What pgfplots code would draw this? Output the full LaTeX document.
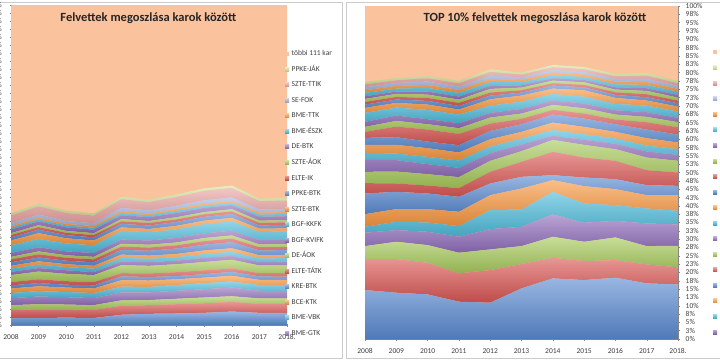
\documentclass[border=0pt]{standalone}
\usepackage{fontspec}
\setmainfont{Carlito}
\usepackage{pgfplots}
\pgfplotsset{compat=1.18}
\definecolor{cbl}{HTML}{5A8AD0}
\definecolor{crd}{HTML}{D85653}
\definecolor{cgn}{HTML}{A6C95B}
\definecolor{cpu}{HTML}{8F6DBA}
\definecolor{caq}{HTML}{4DBAD9}
\definecolor{cor}{HTML}{F7963F}
\definecolor{lbl}{HTML}{A3B6E0}
\definecolor{lrd}{HTML}{E8A2A1}
\definecolor{lgn}{HTML}{D3E498}
\definecolor{lor}{HTML}{FBC29E}
\definecolor{axg}{HTML}{868686}
\definecolor{txt}{HTML}{404040}
\pgfplotsset{
  sh/.style={draw=none, top color=#1!62!white, bottom color=#1!88!black},
  base/.style={
    scale only axis, stack plots=y, xmin=2008, xmax=2018, ymin=0, ymax=100,
    axis background/.style={fill=lor},
    xtick={2008,2009,2010,2011,2012,2013,2014,2015,2016,2017,2018},
    xticklabels={2008,2009,2010,2011,2012,2013,2014,2015,2016,2017,2018.},
    ytick={0,2.5,...,100},
    yticklabels={0\%,3\%,5\%,8\%,10\%,13\%,15\%,18\%,20\%,23\%,25\%,28\%,30\%,33\%,35\%,38\%,40\%,43\%,45\%,48\%,50\%,53\%,55\%,58\%,60\%,63\%,65\%,68\%,70\%,73\%,75\%,78\%,80\%,83\%,85\%,88\%,90\%,93\%,95\%,98\%,100\%},
    tick align=outside, major tick length=3pt,
    tick style={axg, line width=0.4pt},
    axis line style={axg, line width=0.5pt, -},
    ticklabel style={font=\fontsize{7.5}{8}\selectfont, text=txt},
    xticklabel style={inner sep=0pt, anchor=north, yshift=-8pt},
    legend image code/.code={\path[##1] (0pt,-2pt) rectangle (4pt,2pt);},
    reverse legend,
    legend cell align=left,
    legend style={draw=none, fill=none, inner sep=0pt, font=\fontsize{7.5}{8}\selectfont, text=txt,
      row sep=9.55pt, nodes={inner sep=0pt, text height=5pt, text depth=1pt},
      /tikz/every odd column/.append style={column sep=2.5pt}},
    title style={font=\bfseries\fontsize{12.5}{14}\selectfont, text=black!85, anchor=center},
  }
}
\begin{document}
\begin{tikzpicture}
\useasboundingbox (0,0) rectangle (720pt,360pt);
\fill[white] (0,0) rectangle (720pt,360pt);
\clip (0,0) rectangle (720pt,360pt);
\draw[gray!40, line width=0.7pt] (-3pt,2pt) rectangle (342pt,358pt);
\draw[gray!40, line width=0.7pt] (346pt,2pt) rectangle (730pt,358pt);

\begin{axis}[base, at={(11pt,35pt)}, anchor=south west, width=276pt, height=320pt,
  axis x line=bottom, axis y line=left, axis line style={-},
  yticklabel style={anchor=east, inner sep=0pt, xshift=-7.5pt},
  title={Felvettek megoszlása karok között}, title style={at={(0.498,0.94)}},
  legend style={at={(0.9928,0.858)}, anchor=north west}]
\addplot[sh=cbl, forget plot] coordinates {(2008,2.2)(2009,2.2)(2010,2.3)(2011,2.2)(2012,3.2)(2013,3.5)(2014,3.6)(2015,3.8)(2016,4.2)(2017,3.8)(2018,3.8)} \closedcycle;
\addplot[sh=crd, forget plot] coordinates {(2008,2.5)(2009,2.7)(2010,2.6)(2011,2.5)(2012,2.8)(2013,2.7)(2014,2.9)(2015,3.0)(2016,3.0)(2017,2.8)(2018,2.8)} \closedcycle;
\addplot[sh=cgn, forget plot] coordinates {(2008,1.5)(2009,1.6)(2010,1.5)(2011,1.5)(2012,1.7)(2013,1.6)(2014,1.7)(2015,1.8)(2016,1.8)(2017,1.7)(2018,1.7)} \closedcycle;
\addplot[sh=cpu, forget plot] coordinates {(2008,2.2)(2009,2.4)(2010,2.3)(2011,2.2)(2012,2.5)(2013,2.4)(2014,2.5)(2015,2.6)(2016,2.7)(2017,2.4)(2018,2.4)} \closedcycle;
\addplot[sh=caq, forget plot] coordinates {(2008,1.6)(2009,1.7)(2010,1.6)(2011,1.6)(2012,1.8)(2013,1.7)(2014,1.8)(2015,1.9)(2016,1.9)(2017,1.8)(2018,1.8)} \closedcycle;
\addplot[sh=cor, forget plot] coordinates {(2008,1.4)(2009,1.5)(2010,1.4)(2011,1.4)(2012,2.0)(2013,2.0)(2014,1.8)(2015,1.7)(2016,1.8)(2017,1.6)(2018,1.6)} \closedcycle;
\addplot[sh=cbl, forget plot] coordinates {(2008,1.0)(2009,1.0)(2010,0.9)(2011,1.0)(2012,1.2)(2013,1.1)(2014,1.0)(2015,1.1)(2016,1.2)(2017,1.1)(2018,1.0)} \closedcycle;
\addplot[sh=crd, forget plot] coordinates {(2008,1.0)(2009,1.2)(2010,1.1)(2011,1.0)(2012,1.0)(2013,1.1)(2014,1.2)(2015,1.2)(2016,1.1)(2017,1.0)(2018,1.1)} \closedcycle;
\addplot[sh=cgn, forget plot] coordinates {(2008,2.2)(2009,2.4)(2010,2.3)(2011,2.2)(2012,2.5)(2013,2.4)(2014,2.5)(2015,2.6)(2016,2.7)(2017,2.4)(2018,2.4)} \closedcycle;
\addplot[sh=cpu] coordinates {(2008,1.0)(2009,1.1)(2010,1.1)(2011,0.9)(2012,1.1)(2013,1.2)(2014,1.1)(2015,1.3)(2016,1.2)(2017,1.1)(2018,1.2)} \closedcycle;
\addlegendentry{BME-GTK}
\addplot[sh=caq] coordinates {(2008,1.0)(2009,1.1)(2010,1.0)(2011,1.1)(2012,1.2)(2013,1.0)(2014,1.1)(2015,1.2)(2016,1.3)(2017,1.1)(2018,1.1)} \closedcycle;
\addlegendentry{BME-VBK}
\addplot[sh=cor] coordinates {(2008,0.9)(2009,1.0)(2010,0.9)(2011,0.9)(2012,1.0)(2013,1.0)(2014,1.0)(2015,1.1)(2016,1.1)(2017,1.0)(2018,1.0)} \closedcycle;
\addlegendentry{BCE-KTK}
\addplot[sh=cbl] coordinates {(2008,1.1)(2009,1.2)(2010,1.1)(2011,1.1)(2012,1.5)(2013,1.5)(2014,1.7)(2015,1.8)(2016,1.9)(2017,1.5)(2018,1.5)} \closedcycle;
\addlegendentry{KRE-BTK}
\addplot[sh=crd] coordinates {(2008,0.9)(2009,1.0)(2010,0.9)(2011,0.9)(2012,1.0)(2013,1.0)(2014,1.0)(2015,1.1)(2016,1.1)(2017,1.0)(2018,1.0)} \closedcycle;
\addlegendentry{ELTE-TÁTK}
\addplot[sh=cgn] coordinates {(2008,0.8)(2009,0.9)(2010,0.8)(2011,0.8)(2012,0.9)(2013,0.9)(2014,0.9)(2015,1.0)(2016,1.0)(2017,0.9)(2018,0.9)} \closedcycle;
\addlegendentry{DE-ÁOK}
\addplot[sh=cpu] coordinates {(2008,1.2)(2009,1.3)(2010,1.2)(2011,1.2)(2012,1.3)(2013,1.3)(2014,1.4)(2015,1.4)(2016,1.5)(2017,1.3)(2018,1.3)} \closedcycle;
\addlegendentry{BGF-KVIFK}
\addplot[sh=caq] coordinates {(2008,2.4)(2009,2.6)(2010,2.5)(2011,2.4)(2012,2.7)(2013,2.6)(2014,2.7)(2015,2.9)(2016,2.9)(2017,2.6)(2018,2.6)} \closedcycle;
\addlegendentry{BGF-KKFK}
\addplot[sh=cor] coordinates {(2008,1.5)(2009,1.8)(2010,1.6)(2011,1.5)(2012,1.1)(2013,1.0)(2014,1.1)(2015,1.1)(2016,1.1)(2017,1.0)(2018,1.0)} \closedcycle;
\addlegendentry{SZTE-BTK}
\addplot[sh=cbl] coordinates {(2008,1.0)(2009,1.1)(2010,1.0)(2011,1.0)(2012,1.1)(2013,1.1)(2014,1.2)(2015,1.2)(2016,1.2)(2017,1.0)(2018,1.1)} \closedcycle;
\addlegendentry{PPKE-BTK}
\addplot[sh=crd] coordinates {(2008,0.7)(2009,0.8)(2010,0.7)(2011,0.7)(2012,0.8)(2013,0.8)(2014,0.8)(2015,0.8)(2016,0.8)(2017,0.8)(2018,0.8)} \closedcycle;
\addlegendentry{ELTE-IK}
\addplot[sh=cgn] coordinates {(2008,0.6)(2009,0.6)(2010,0.6)(2011,0.6)(2012,0.7)(2013,0.6)(2014,0.7)(2015,0.7)(2016,0.7)(2017,0.7)(2018,0.7)} \closedcycle;
\addlegendentry{SZTE-ÁOK}
\addplot[sh=cpu] coordinates {(2008,1.1)(2009,1.2)(2010,1.1)(2011,1.1)(2012,1.2)(2013,1.2)(2014,1.3)(2015,1.3)(2016,1.3)(2017,1.2)(2018,1.2)} \closedcycle;
\addlegendentry{DE-BTK}
\addplot[sh=caq] coordinates {(2008,0.6)(2009,0.6)(2010,0.6)(2011,0.6)(2012,0.7)(2013,0.6)(2014,0.7)(2015,0.7)(2016,0.7)(2017,0.7)(2018,0.7)} \closedcycle;
\addlegendentry{BME-ÉSZK}
\addplot[sh=cor] coordinates {(2008,0.5)(2009,0.5)(2010,0.5)(2011,0.5)(2012,0.6)(2013,0.5)(2014,0.6)(2015,0.6)(2016,0.6)(2017,0.6)(2018,0.6)} \closedcycle;
\addlegendentry{BME-TTK}
\addplot[sh=lbl] coordinates {(2008,0.9)(2009,1.0)(2010,0.9)(2011,0.9)(2012,1.0)(2013,1.0)(2014,1.0)(2015,1.1)(2016,1.1)(2017,1.0)(2018,1.0)} \closedcycle;
\addlegendentry{SE-FOK}
\addplot[sh=lrd] coordinates {(2008,2.4)(2009,2.6)(2010,2.5)(2011,2.4)(2012,2.7)(2013,2.6)(2014,2.7)(2015,2.9)(2016,2.9)(2017,2.6)(2018,2.6)} \closedcycle;
\addlegendentry{SZTE-TTIK}
\addplot[sh=lgn] coordinates {(2008,0.7)(2009,0.8)(2010,0.7)(2011,0.7)(2012,0.8)(2013,0.8)(2014,0.8)(2015,0.8)(2016,0.8)(2017,0.8)(2018,0.8)} \closedcycle;
\addlegendentry{PPKE-JÁK}
\addplot[fill=lor, draw=none] coordinates {(2008,65)(2009,62.5)(2010,64)(2011,65.3)(2012,60.3)(2013,61)(2014,59)(2015,57)(2016,56)(2017,60)(2018,60)} \closedcycle;
\addlegendentry{többi 111 kar}
\end{axis}

\begin{axis}[base, at={(365pt,21pt)}, anchor=south west, width=313pt, height=333pt,
  axis x line=bottom, axis y line=right, axis line style={-},
  yticklabel style={anchor=west, inner sep=0pt, xshift=6pt},
  title={TOP 10\% felvettek megoszlása karok között}, title style={at={(0.543,0.946)}},
  legend style={at={(1.1118,0.871)}, anchor=north west}]
\addplot[sh=cbl, forget plot] coordinates {(2008,14.7)(2009,13.9)(2010,13.4)(2011,11.2)(2012,10.9)(2013,15.2)(2014,18.2)(2015,17.7)(2016,18.4)(2017,16.7)(2018,16.4)} \closedcycle;
\addplot[sh=crd, forget plot] coordinates {(2008,9.3)(2009,10.1)(2010,9.5)(2011,8.5)(2012,9.8)(2013,7.3)(2014,6.2)(2015,5.7)(2016,5.3)(2017,5.7)(2018,5.1)} \closedcycle;
\addplot[sh=cgn, forget plot] coordinates {(2008,3.9)(2009,5.2)(2010,5.3)(2011,6.2)(2012,6.2)(2013,5.4)(2014,6.3)(2015,5.8)(2016,6.8)(2017,5.5)(2018,6.5)} \closedcycle;
\addplot[sh=cpu, forget plot] coordinates {(2008,4.0)(2009,3.5)(2010,4.0)(2011,4.8)(2012,6.1)(2013,5.8)(2014,6.7)(2015,5.7)(2016,5.0)(2017,6.8)(2018,6.4)} \closedcycle;
\addplot[sh=caq, forget plot] coordinates {(2008,1.8)(2009,2.5)(2010,2.8)(2011,3.2)(2012,5.7)(2013,5.2)(2014,6.8)(2015,5.8)(2016,4.7)(2017,4.5)(2018,4.1)} \closedcycle;
\addplot[sh=cor, forget plot] coordinates {(2008,3.8)(2009,3.8)(2010,4.0)(2011,4.3)(2012,4.5)(2013,6.3)(2014,3.5)(2015,5.2)(2016,4.8)(2017,4.0)(2018,4.7)} \closedcycle;
\addplot[sh=cbl, forget plot] coordinates {(2008,6.2)(2009,5.2)(2010,4.7)(2011,4.5)(2012,3.5)(2013,3.5)(2014,1.5)(2015,2.6)(2016,3.0)(2017,3.0)(2018,2.8)} \closedcycle;
\addplot[sh=crd, forget plot] coordinates {(2008,3.1)(2009,2.5)(2010,2.4)(2011,2.6)(2012,3.5)(2013,4.5)(2014,7.0)(2015,6.0)(2016,5.5)(2017,4.5)(2018,4.0)} \closedcycle;
\addplot[sh=cgn, forget plot] coordinates {(2008,3.4)(2009,3.6)(2010,3.4)(2011,3.3)(2012,3.3)(2013,3.2)(2014,3.6)(2015,3.8)(2016,3.5)(2017,3.8)(2018,3.5)} \closedcycle;
\addplot[sh=cpu] coordinates {(2008,3.6)(2009,3.4)(2010,3.0)(2011,2.8)(2012,2.3)(2013,2.0)(2014,1.2)(2015,1.5)(2016,1.6)(2017,1.8)(2018,1.8)} \closedcycle;
\addlegendentry{BME-GTK}
\addplot[sh=caq] coordinates {(2008,2.1)(2009,2.0)(2010,2.2)(2011,2.2)(2012,2.0)(2013,1.8)(2014,1.8)(2015,1.7)(2016,1.6)(2017,1.8)(2018,1.7)} \closedcycle;
\addlegendentry{BME-VBK}
\addplot[sh=cor] coordinates {(2008,2.4)(2009,2.6)(2010,2.6)(2011,2.4)(2012,2.2)(2013,2.0)(2014,2.2)(2015,2.2)(2016,2.0)(2017,2.2)(2018,2.0)} \closedcycle;
\addlegendentry{BCE-KTK}
\addplot[sh=cbl] coordinates {(2008,2.1)(2009,2.3)(2010,2.0)(2011,2.2)(2012,2.5)(2013,2.3)(2014,2.4)(2015,2.5)(2016,2.3)(2017,2.6)(2018,2.4)} \closedcycle;
\addlegendentry{KRE-BTK}
\addplot[sh=crd] coordinates {(2008,1.8)(2009,3.2)(2010,3.6)(2011,3.4)(2012,2.2)(2013,1.6)(2014,1.4)(2015,1.5)(2016,1.4)(2017,2.2)(2018,2.2)} \closedcycle;
\addlegendentry{ELTE-TÁTK}
\addplot[sh=cgn] coordinates {(2008,1.5)(2009,1.7)(2010,1.6)(2011,1.7)(2012,1.8)(2013,1.6)(2014,1.5)(2015,1.6)(2016,1.5)(2017,1.6)(2018,1.5)} \closedcycle;
\addlegendentry{DE-ÁOK}
\addplot[sh=cpu] coordinates {(2008,1.5)(2009,1.6)(2010,1.5)(2011,1.5)(2012,1.4)(2013,1.4)(2014,1.3)(2015,1.4)(2016,1.3)(2017,1.4)(2018,1.3)} \closedcycle;
\addlegendentry{BGF-KVIFK}
\addplot[sh=caq] coordinates {(2008,2.7)(2009,2.4)(2010,2.8)(2011,2.6)(2012,2.2)(2013,2.2)(2014,2.0)(2015,2.1)(2016,1.9)(2017,2.0)(2018,1.9)} \closedcycle;
\addlegendentry{BGF-KKFK}
\addplot[sh=cor] coordinates {(2008,1.5)(2009,1.4)(2010,1.6)(2011,1.5)(2012,1.9)(2013,1.8)(2014,1.6)(2015,1.9)(2016,1.8)(2017,1.5)(2018,1.5)} \closedcycle;
\addlegendentry{SZTE-BTK}
\addplot[sh=cbl] coordinates {(2008,1.0)(2009,1.0)(2010,1.1)(2011,1.1)(2012,1.1)(2013,0.9)(2014,0.9)(2015,0.9)(2016,0.9)(2017,1.0)(2018,1.0)} \closedcycle;
\addlegendentry{PPKE-BTK}
\addplot[sh=crd] coordinates {(2008,0.8)(2009,0.8)(2010,0.9)(2011,0.9)(2012,0.9)(2013,0.7)(2014,0.7)(2015,0.7)(2016,0.8)(2017,0.9)(2018,0.8)} \closedcycle;
\addlegendentry{ELTE-IK}
\addplot[sh=cgn] coordinates {(2008,0.9)(2009,0.9)(2010,1.0)(2011,1.0)(2012,1.1)(2013,0.8)(2014,0.8)(2015,0.8)(2016,0.8)(2017,1.0)(2018,0.9)} \closedcycle;
\addlegendentry{SZTE-ÁOK}
\addplot[sh=cpu] coordinates {(2008,0.8)(2009,0.7)(2010,0.9)(2011,0.9)(2012,0.9)(2013,0.7)(2014,0.7)(2015,0.7)(2016,0.7)(2017,0.8)(2018,0.8)} \closedcycle;
\addlegendentry{DE-BTK}
\addplot[sh=caq] coordinates {(2008,1.0)(2009,0.9)(2010,1.1)(2011,1.1)(2012,1.2)(2013,0.9)(2014,0.9)(2015,0.9)(2016,0.9)(2017,1.0)(2018,1.0)} \closedcycle;
\addlegendentry{BME-ÉSZK}
\addplot[sh=cor] coordinates {(2008,0.8)(2009,0.8)(2010,0.9)(2011,0.9)(2012,0.9)(2013,0.7)(2014,0.8)(2015,0.7)(2016,0.8)(2017,0.9)(2018,0.8)} \closedcycle;
\addlegendentry{BME-TTK}
\addplot[sh=lbl] coordinates {(2008,0.9)(2009,0.9)(2010,1.0)(2011,1.0)(2012,1.0)(2013,0.8)(2014,0.8)(2015,0.8)(2016,0.8)(2017,0.9)(2018,0.9)} \closedcycle;
\addlegendentry{SE-FOK}
\addplot[sh=lrd] coordinates {(2008,0.9)(2009,0.8)(2010,1.0)(2011,1.0)(2012,1.1)(2013,0.8)(2014,0.8)(2015,0.8)(2016,0.8)(2017,1.0)(2018,0.8)} \closedcycle;
\addlegendentry{SZTE-TTIK}
\addplot[sh=lgn] coordinates {(2008,0.7)(2009,0.7)(2010,0.7)(2011,0.7)(2012,0.8)(2013,0.6)(2014,0.7)(2015,0.7)(2016,0.7)(2017,0.8)(2018,0.7)} \closedcycle;
\addlegendentry{PPKE-JÁK}
\addplot[fill=lor, draw=none] coordinates {(2008,22.8)(2009,21.6)(2010,21.0)(2011,22.5)(2012,19.0)(2013,20.0)(2014,17.7)(2015,18.3)(2016,20.4)(2017,20.1)(2018,22.5)} \closedcycle;
\addlegendentry{többi 111 kar}
\end{axis}
\end{tikzpicture}
\end{document}
